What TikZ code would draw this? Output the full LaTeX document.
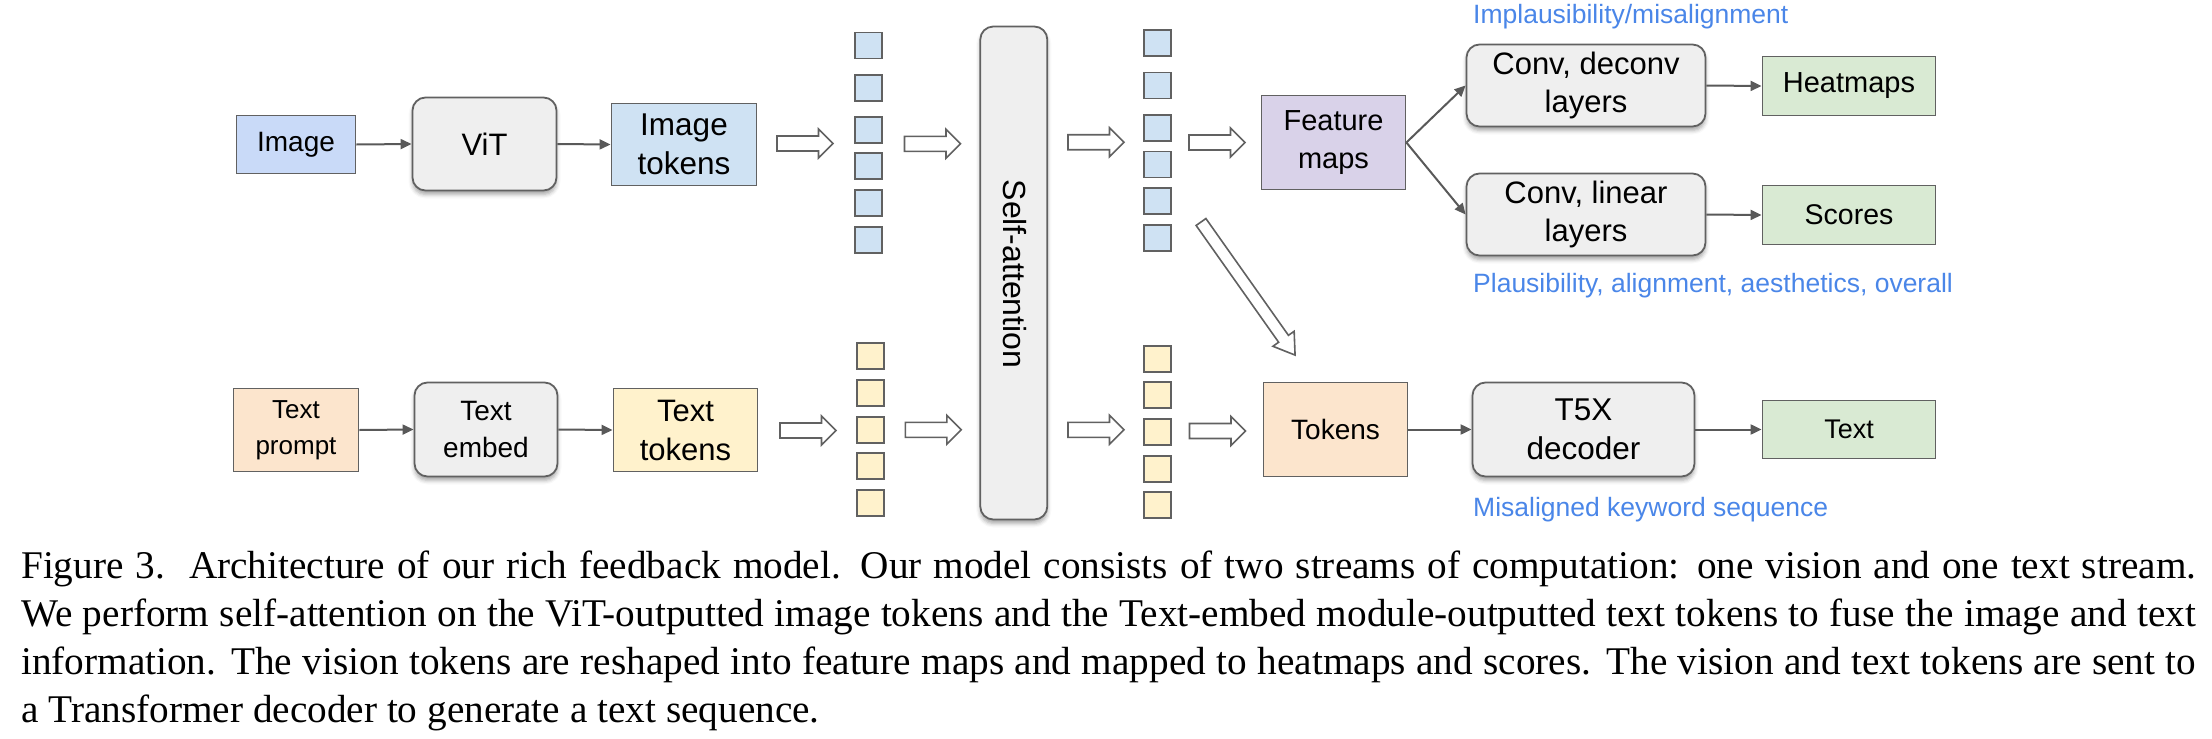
\documentclass[tikz,border=0pt]{standalone}
\usepackage{fontspec}
\setmainfont{Liberation Serif}
\newfontfamily\arialfont{Liberation Sans}
\usetikzlibrary{arrows.meta,shadows.blur}

\definecolor{cImg}{HTML}{C9DAF8}
\definecolor{cTokB}{HTML}{CFE2F3}
\definecolor{cGrey}{HTML}{EFEFEF}
\definecolor{cOrange}{HTML}{FCE5CD}
\definecolor{cYellow}{HTML}{FFF2CC}
\definecolor{cPurple}{HTML}{D9D2E9}
\definecolor{cGreen}{HTML}{D9EAD3}
\definecolor{cStroke}{HTML}{616161}
\definecolor{cLine}{HTML}{595959}
\definecolor{cNote}{HTML}{4A86E8}

\tikzset{
  box/.style={draw=cStroke, line width=1.8pt, inner sep=0pt, align=center},
  rbox/.style={box, fill=cGrey, rounded corners=13pt,
    blur shadow={shadow xshift=0pt, shadow yshift=-4pt, shadow blur radius=4pt, shadow opacity=35}},
  tok/.style={draw=cStroke, line width=1.8pt, minimum width=27pt, minimum height=26pt, inner sep=0pt},
  conn/.style={draw=cLine, line width=2pt, -{Triangle[length=11pt,width=10pt]}},
  hollowline/.style={draw=cStroke, line width=1.6pt, fill=white, line join=miter},
  harrow/.pic={\draw[hollowline] (-28,-7.5) -- (13.5,-7.5) -- (13.5,-14.5) -- (28,0) -- (13.5,14.5) -- (13.5,7.5) -- (-28,7.5) -- cycle;},
  darrow/.pic={\draw[hollowline] (0,-6) -- (143,-6) -- (143,-13) -- (163,0) -- (143,13) -- (143,6) -- (0,6) -- cycle;},
  note/.style={text=cNote, anchor=base west, inner sep=0pt},
  capline/.style={anchor=base west, inner sep=0pt, font=\fontsize{39.25}{48}\selectfont},
}

\begin{document}
\begin{tikzpicture}[x=1pt,y=-1pt]
\useasboundingbox (0,0) rectangle (2212,739);

% ---------- top (vision) stream ----------
\node[box, fill=cImg, minimum width=119, minimum height=58, font=\arialfont\fontsize{28}{35}\selectfont] (img) at (296,144.5) {Image};
\node[rbox, minimum width=144, minimum height=93, font=\arialfont\fontsize{31}{39}\selectfont] (vit) at (484.5,144) {ViT};
\node[box, fill=cTokB, minimum width=145, minimum height=82, font=\arialfont\fontsize{31.5}{39}\selectfont] (itok) at (684,144.5) {Image\\tokens};

\foreach \y [count=\i] in {45.5,88,129.7,166.3,203,239.7}
  \node[tok, fill=cTokB] (bA\i) at (868.3,\y) {};
\pic (ha1) at (805,143.5) {harrow};
\pic (ha2) at (932.5,143.8) {harrow};

% ---------- self-attention ----------
\node[rbox, minimum width=67, minimum height=493] (sa) at (1013.8,273) {};
\node[rotate=-90, font=\arialfont\fontsize{32}{38}\selectfont, inner sep=0pt] (satext) at (1014.5,274) {Self-attention};

\pic (ha3) at (1096,142.2) {harrow};
\pic (ha4) at (1217,142.5) {harrow};
\foreach \y [count=\i] in {43,85.5,128,164.5,201,238}
  \node[tok, fill=cTokB] (bB\i) at (1157.8,\y) {};

\node[box, fill=cPurple, minimum width=144, minimum height=94, font=\arialfont\fontsize{29}{38}\selectfont] (fm) at (1333.5,142.5) {Feature\\maps};
\node[rbox, minimum width=239, minimum height=82, font=\arialfont\fontsize{31}{38}\selectfont] (cd) at (1586,85.5) {Conv, deconv\\layers};
\node[rbox, minimum width=239, minimum height=82, font=\arialfont\fontsize{31}{38}\selectfont] (cl) at (1586,214.5) {Conv, linear\\layers};
\node[box, fill=cGreen, minimum width=173, minimum height=59, font=\arialfont\fontsize{29}{35}\selectfont] (hm) at (1849,86) {Heatmaps};
\node[box, fill=cGreen, minimum width=173, minimum height=59, font=\arialfont\fontsize{28.5}{35}\selectfont] (sc) at (1849,215) {Scores};

\node[note, font=\arialfont\fontsize{26.5}{32}\selectfont] (n1) at (1473,23) {Implausibility/misalignment};
\node[note, font=\arialfont\fontsize{26.5}{32}\selectfont] (n2) at (1473,292) {Plausibility, alignment, aesthetics, overall};

% ---------- bottom (text) stream ----------
\node[box, fill=cOrange, minimum width=125, minimum height=83, font=\arialfont\fontsize{26}{36}\selectfont] (tp) at (296,430) {Text\\prompt};
\node[rbox, minimum width=143, minimum height=94, font=\arialfont\fontsize{28}{37}\selectfont] (te) at (486,429.5) {Text\\embed};
\node[box, fill=cYellow, minimum width=144, minimum height=83, font=\arialfont\fontsize{31}{39}\selectfont] (tt) at (685.5,430) {Text\\tokens};

\foreach \y [count=\i] in {356.3,393,429.7,466.3,503}
  \node[tok, fill=cYellow] (yA\i) at (870.2,\y) {};
\pic (ha5) at (808,430.5) {harrow};
\pic (ha6) at (933.3,429.8) {harrow};
\pic (ha7) at (1096,429.8) {harrow};
\pic (ha8) at (1217.5,431) {harrow};
\foreach \y [count=\i] in {358.7,395.3,432,468.7,505.3}
  \node[tok, fill=cYellow] (yB\i) at (1157.8,\y) {};

\node[box, fill=cOrange, minimum width=144, minimum height=94, font=\arialfont\fontsize{28}{35}\selectfont] (tk) at (1335.5,429.5) {Tokens};
\node[rbox, minimum width=222, minimum height=94, font=\arialfont\fontsize{31.5}{39}\selectfont] (t5) at (1583.5,429.5) {T5X\\decoder};
\node[box, fill=cGreen, minimum width=173, minimum height=58, font=\arialfont\fontsize{27}{34}\selectfont] (tx) at (1849,429.5) {Text};

\node[note, font=\arialfont\fontsize{26.5}{32}\selectfont] (n3) at (1473,516) {Misaligned keyword sequence};

% diagonal hollow arrow: vision tokens to Tokens
\pic[rotate=-54.75] (hd) at (1201,222) {darrow};

% ---------- connectors ----------
\draw[conn] (img.east) -- (vit.west);
\draw[conn] (vit.east) -- (itok.west);
\draw[conn] (fm.east) -- (cd.west);
\draw[conn] (fm.east) -- (cl.west);
\draw[conn] (cd.east) -- (hm.west);
\draw[conn] (cl.east) -- (sc.west);
\draw[conn] (tp.east) -- (te.west);
\draw[conn] (te.east) -- (tt.west);
\draw[conn] (tk.east) -- (t5.west);
\draw[conn] (t5.east) -- (tx.west);

% ---------- caption ----------
\node[capline] (cap1) at (21,578) {\makebox[2175pt][s]{Figure 3.\ \ Architecture of our rich feedback model.  Our model consists of two streams of computation:  one vision and one text stream.}};
\node[capline] (cap2) at (21,626) {\makebox[2175pt][s]{We perform self-attention on the ViT-outputted image tokens and the Text-embed module-outputted text tokens to fuse the image and text}};
\node[capline] (cap3) at (21,674) {\makebox[2175pt][s]{information. The vision tokens are reshaped into feature maps and mapped to heatmaps and scores. The vision and text tokens are sent to}};
\node[capline] (cap4) at (21,722) {a Transformer decoder to generate a text sequence.};
\end{tikzpicture}
\end{document}
